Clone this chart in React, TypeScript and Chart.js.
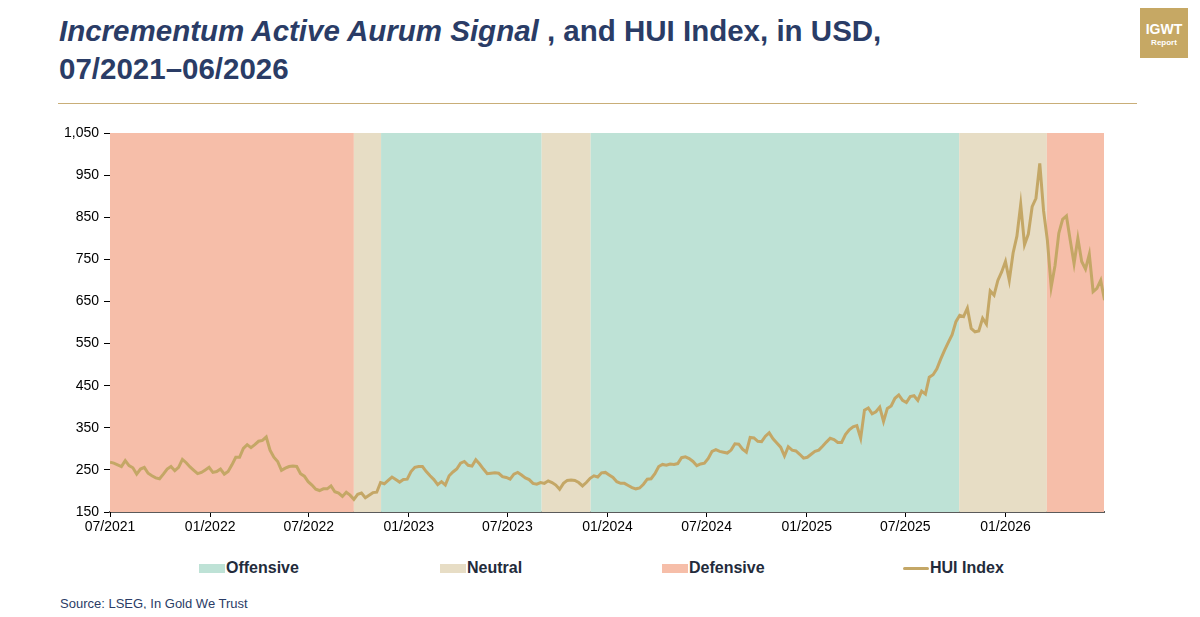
import React, { useEffect, useRef } from "react";
import { Chart, registerables } from "chart.js";

Chart.register(...registerables);

// ---- Data ----
const seriesStart = "2021-07-01";
const stepDays = 7; // weekly observations
const hui: number[] = [
  268, 266, 262, 258, 272, 260, 255, 240, 252, 256,
  242, 236, 231, 229, 240, 252, 258, 248, 256, 275,
  267, 257, 249, 241, 244, 250, 256, 244, 246, 252,
  240, 246, 262, 280, 280, 301, 310, 303, 310, 318,
  320, 328, 297, 280, 270, 249, 254, 258, 259, 258,
  241, 235, 222, 214, 204, 201, 205, 205, 212, 198,
  195, 187, 197, 190, 180, 192, 195, 184, 190, 196,
  197, 220, 217, 225, 233, 227, 221, 227, 228, 246,
  256, 258, 258, 246, 236, 227, 215, 222, 214, 236,
  245, 252, 266, 270, 261, 259, 274, 264, 252, 241,
  242, 243, 242, 234, 232, 228, 240, 244, 238, 231,
  227, 218, 216, 220, 218, 224, 220, 214, 204, 218,
  225, 226, 225, 220, 212, 220, 230, 236, 233, 243,
  244, 238, 232, 222, 218, 218, 213, 208, 205, 207,
  216, 228, 229, 241, 258, 263, 261, 264, 263, 265,
  279, 281, 277, 270, 260, 264, 266, 277, 294, 298,
  294, 292, 290, 297, 312, 311, 299, 292, 327, 326,
  318, 317, 330, 338, 324, 314, 304, 283, 305, 297,
  295, 287, 278, 280, 287, 294, 297, 306, 316, 325,
  322, 315, 315, 334, 345, 352, 355, 325, 392, 397,
  383, 388, 399, 365, 396, 402, 420, 428, 415, 410,
  424, 426, 415, 437, 430, 470, 476, 490, 513, 534,
  553, 571, 602, 617, 614, 634, 586, 578, 580, 610,
  596, 675, 665, 700, 720, 745, 700, 765, 805, 880,
  785, 810, 875, 895, 978, 865, 795, 684, 735, 812,
  845, 853, 795, 740, 800, 745, 727, 762, 673, 681,
  700, 653,
];

const bandStarts = ["2021-07-01", "2022-09-22", "2022-11-11", "2023-09-02", "2023-12-01", "2025-10-08", "2026-03-18"];
const bandEnds = ["2022-09-22", "2022-11-11", "2023-09-02", "2023-12-01", "2025-10-08", "2026-03-18", "2026-07-01"];
const bandSignals = ["Defensive", "Neutral", "Offensive", "Neutral", "Offensive", "Neutral", "Defensive"];

const signalNames = ["Offensive", "Neutral", "Defensive"];
const signalColors = ["#BEE2D6", "#E7DDC5", "#F6BEA9"];

const xTickDates = ["2021-07-01", "2022-01-01", "2022-07-01", "2023-01-01", "2023-07-01", "2024-01-01", "2024-07-01", "2025-01-01", "2025-07-01", "2026-01-01"];
const xTickLabels = ["07/2021", "01/2022", "07/2022", "01/2023", "07/2023", "01/2024", "07/2024", "01/2025", "07/2025", "01/2026"];
const axisEnd = "2026-07-01";

const yMin = 150;
const yMax = 1050;
const yStep = 100;

const lineColor = "#C4A766";
const navy = "#2A3C66";
const FONT = '"Liberation Sans", Arial, sans-serif';

function dayOf(s: string): number {
  const [y, m, d] = s.split("-").map(Number);
  const [y0, m0, d0] = seriesStart.split("-").map(Number);
  return Math.round((Date.UTC(y, m - 1, d) - Date.UTC(y0, m0 - 1, d0)) / 86400000);
}

const bandPlugin = {
  id: "signalBands",
  beforeDatasetsDraw(chart: any) {
    const { ctx, chartArea, scales } = chart;
    const xs = scales.x;
    ctx.save();
    bandStarts.forEach((s, i) => {
      const x0 = xs.getPixelForValue(dayOf(s));
      const x1 = xs.getPixelForValue(dayOf(bandEnds[i]));
      ctx.fillStyle = signalColors[signalNames.indexOf(bandSignals[i])];
      ctx.fillRect(x0, chartArea.top, x1 - x0, chartArea.bottom - chartArea.top);
    });
    ctx.restore();
  },
};

function HuiChart() {
  const ref = useRef<HTMLCanvasElement | null>(null);
  useEffect(() => {
    if (!ref.current) return;
    const tickDays = xTickDates.map(dayOf);
    const chart = new Chart(ref.current, {
      type: "line",
      data: {
        datasets: [
          {
            label: "HUI Index",
            data: hui.map((v, i) => ({ x: i * stepDays, y: v })),
            borderColor: lineColor,
            borderWidth: 3,
            pointRadius: 0,
            tension: 0,
            fill: false,
          },
        ],
      },
      options: {
        animation: false,
        responsive: false,
        maintainAspectRatio: false,
        layout: { padding: { left: 0, right: 96, top: 23, bottom: 0 } },
        plugins: { legend: { display: false }, tooltip: { enabled: false } },
        scales: {
          x: {
            type: "linear",
            min: 0,
            max: dayOf(axisEnd),
            afterBuildTicks: (scale: any) => {
              scale.ticks = tickDays.map((v) => ({ value: v }));
            },
            afterFit: (scale: any) => {
              scale.height = 28;
            },
            ticks: {
              autoSkip: false,
              maxRotation: 0,
              color: "#000",
              padding: 2,
              font: { family: FONT, size: 14 },
              callback: (value: any) => {
                const idx = tickDays.indexOf(Number(value));
                return idx >= 0 ? xTickLabels[idx] : "";
              },
            },
            grid: { display: true, drawOnChartArea: false, drawTicks: true, tickLength: 5, color: "#000" },
            border: { display: true, color: "#5A5A5A", width: 2 },
          },
          y: {
            min: yMin,
            max: yMax,
            afterFit: (scale: any) => {
              scale.width = 110;
            },
            ticks: {
              stepSize: yStep,
              color: "#000",
              padding: 5,
              font: { family: FONT, size: 14 },
              callback: (value: any) => Number(value).toLocaleString("en-US"),
            },
            grid: { display: true, drawOnChartArea: false, drawTicks: true, tickLength: 6, color: "#000" },
            border: { display: true, color: "#000", width: 1 },
          },
        },
      },
      plugins: [bandPlugin],
    } as any);
    return () => chart.destroy();
  }, []);
  return (
    <canvas
      ref={ref}
      width={1200}
      height={430}
      style={{ position: "absolute", left: 0, top: 110, width: 1200, height: 430 }}
    />
  );
}

const legendItems = [
  { label: "Offensive", color: signalColors[0], kind: "box", left: 199 },
  { label: "Neutral", color: signalColors[1], kind: "box", left: 440 },
  { label: "Defensive", color: signalColors[2], kind: "box", left: 662 },
  { label: "HUI Index", color: lineColor, kind: "line", left: 903 },
];

export default function App() {
  return (
    <div style={{ position: "relative", width: 1200, height: 617, margin: -8, fontFamily: FONT, background: "#fff", overflow: "hidden" }}>
      <div
        style={{
          position: "absolute",
          left: 59,
          top: 12,
          fontSize: 29.5,
          lineHeight: "38px",
          fontWeight: "bold",
          color: navy,
          whiteSpace: "nowrap",
        }}
      >
        <div>
          <span style={{ fontStyle: "italic" }}>Incrementum Active Aurum Signal</span>
          <span> , and HUI Index, in USD,</span>
        </div>
        <div>07/2021–06/2026</div>
      </div>
      <div
        style={{
          position: "absolute",
          left: 1140,
          top: 0,
          width: 48,
          height: 58,
          background: "#C6A864",
          color: "#fff",
          textAlign: "center",
          fontWeight: "bold",
        }}
      >
        <div style={{ fontSize: 14, lineHeight: "14px", marginTop: 22 }}>IGWT</div>
        <div style={{ fontSize: 8, lineHeight: "10px", marginTop: 2 }}>Report</div>
      </div>
      <div style={{ position: "absolute", left: 58, top: 103, width: 1079, height: 1, background: "#C9AE78" }} />
      <HuiChart />
      {legendItems.map((it) => (
        <div
          key={it.label}
          style={{
            position: "absolute",
            left: it.left,
            top: 559,
            height: 18,
            display: "flex",
            alignItems: "center",
            whiteSpace: "nowrap",
          }}
        >
          <div
            style={{
              width: 26,
              height: it.kind === "box" ? 9 : 3,
              background: it.color,
              borderRadius: it.kind === "line" ? 2 : 0,
            }}
          />
          <span style={{ fontSize: 16, fontWeight: "bold", color: "#232B3B", marginLeft: 1 }}>{it.label}</span>
        </div>
      ))}
      <div style={{ position: "absolute", left: 60, top: 596, fontSize: 13, color: navy }}>
        Source: LSEG, In Gold We Trust
      </div>
    </div>
  );
}
